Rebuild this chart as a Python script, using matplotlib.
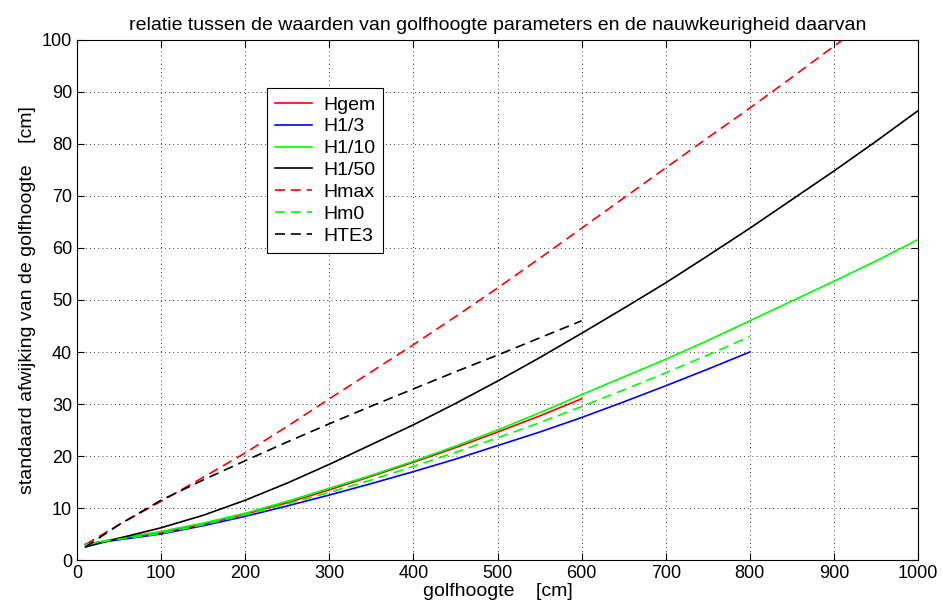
import matplotlib
matplotlib.use("Agg")
import matplotlib.pyplot as plt

plt.rcParams["font.family"] = ["Liberation Sans", "DejaVu Sans"]

# golfhoogte [cm] and standard deviation [cm]
x_1000 = [10, 50, 100, 150, 200, 250, 300, 350, 400, 450, 500, 550, 600, 650, 700, 750, 800, 850, 900, 950, 1000]
x_800 = [10, 50, 100, 150, 200, 250, 300, 350, 400, 450, 500, 550, 600, 650, 700, 750, 800]
x_600 = [10, 50, 100, 150, 200, 250, 300, 350, 400, 450, 500, 550, 600]

hgem = [3.0, 4.1, 5.3, 6.9, 8.8, 11.0, 13.5, 16.1, 18.8, 21.6, 24.6, 27.7, 31.0]
h13 = [3.0, 3.9, 5.0, 6.6, 8.4, 10.4, 12.5, 14.7, 17.0, 19.4, 22.0, 24.6, 27.4, 30.4, 33.5, 36.7, 40.0]
h110 = [3.0, 4.2, 5.5, 7.1, 9.0, 11.3, 13.8, 16.3, 19.0, 21.9, 25.0, 28.3, 31.8, 35.2, 38.6, 42.2, 46.0,
        49.8, 53.6, 57.5, 61.6]
h150 = [2.5, 4.2, 6.2, 8.6, 11.5, 14.8, 18.4, 22.2, 26.0, 30.1, 34.4, 38.9, 43.6, 48.4, 53.3, 58.5, 63.8,
        69.3, 74.8, 80.5, 86.4]
hmax = [3.0, 6.8, 11.3, 15.9, 20.6, 25.7, 31.0, 36.2, 41.4, 46.8, 52.3, 58.0, 63.8, 69.6, 75.4, 81.2, 86.9,
        92.8, 98.8, 104.8, 110.8]
hm0 = [3.0, 4.0, 5.1, 6.8, 8.7, 10.8, 13.0, 15.4, 18.0, 20.7, 23.5, 26.4, 29.5, 32.7, 36.0, 39.4, 43.0]
hte3 = [2.5, 6.8, 11.5, 15.4, 19.1, 22.7, 26.2, 29.6, 32.9, 36.2, 39.4, 42.7, 46.0]

fig = plt.figure(figsize=(9.43, 6.15), dpi=100)
ax = fig.add_axes([0.0817, 0.0894, 0.8918, 0.8456])

lw = 1.2
dash = (0, (6, 3.5))
ax.plot(x_600, hgem, color="#ff0000", lw=lw, label="Hgem")
ax.plot(x_800, h13, color="#0000ff", lw=lw, label="H1/3")
ax.plot(x_1000, h110, color="#00ff00", lw=lw, label="H1/10")
ax.plot(x_1000, h150, color="black", lw=lw, label="H1/50")
ax.plot(x_1000, hmax, color="#ff0000", lw=lw, ls=dash, label="Hmax")
ax.plot(x_800, hm0, color="#00ff00", lw=lw, ls=dash, label="Hm0")
ax.plot(x_600, hte3, color="black", lw=lw, ls=dash, label="HTE3")

ax.set_xlim(0, 1000)
ax.set_ylim(0, 100)
ax.set_xticks(range(0, 1001, 100))
ax.set_yticks(range(0, 101, 10))
ax.grid(True, color="black", ls=(0, (1, 4)), lw=0.6)
ax.tick_params(direction="in", top=True, right=True, labelsize=13, length=5)
for s in ax.spines.values():
    s.set_linewidth(0.8)

ax.set_title("relatie tussen de waarden van golfhoogte parameters en de nauwkeurigheid daarvan",
             fontsize=14, pad=7)
ax.set_xlabel("golfhoogte    [cm]", fontsize=14, labelpad=1)
ax.set_ylabel("standaard afwijking van de golfhoogte    [cm]", fontsize=14, labelpad=4)

leg = ax.legend(loc="upper left", bbox_to_anchor=(0.2144, 0.926), fontsize=14,
                fancybox=False, framealpha=1, edgecolor="black", handlelength=1.9,
                handletextpad=0.6, borderpad=0.4, labelspacing=0.22)
leg.get_frame().set_linewidth(0.8)

fig.savefig("out.png", dpi=100)
